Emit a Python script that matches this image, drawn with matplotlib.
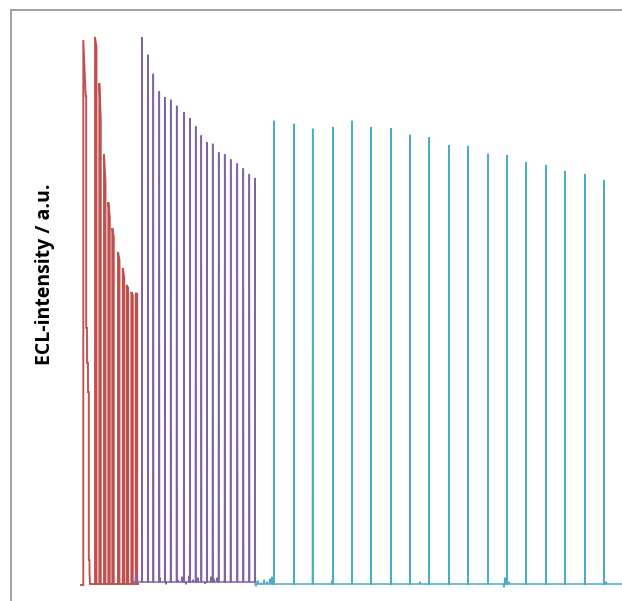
import numpy as np
import matplotlib
matplotlib.use("Agg")
import matplotlib.pyplot as plt
from matplotlib.lines import Line2D

# ---------------- data (time in s, ECL intensity in a.u.) ----------------
# red series: each cycle = a narrow double-topped pulse (first top, second top)
red_t = [6.6, 30, 38.6, 48, 56.6, 64.6, 76, 85.4, 93.4, 102.6, 111.4]
red_top1 = [1090, 1096, 1004, 862, 766, 714, 666, 634, 600, 586, 584]
red_top2 = [978, 1076, 932, 806, 736, 696, 650, 616, 594, 580, 582]
red_base = 2
# extra shoulders of the first cycle (time, value)
red_shoulder_t = [12.4, 14.0, 16.0, 17.6, 19.0]
red_shoulder_v = [514, 444, 386, 50, 26]

# purple series
purple_t = [124, 136, 146.6, 158.6, 170, 181.4, 193.4, 208, 220, 231.4,
            242.6, 254, 265.4, 277.4, 289.4, 301.4, 314.6, 326.6, 338.6, 350]
purple_peak = [1095, 1060, 1022, 987, 975, 970, 958, 945, 933, 917,
               899, 885, 882, 865, 861, 851, 843, 833, 821, 813]
purple_base = 6
purple_noise_t = [112, 114, 160, 172, 182, 196, 204, 212, 218, 226, 236, 250, 262, 268, 274, 290]
purple_noise_v = [18, 8, 8, -4, 8, 3, 10, -4, 12, 4, 8, -3, 10, 5, 8, 4]

# cyan series
cyan_t = [388, 428, 465.4, 506, 544, 582, 622, 660, 698, 738,
          776, 816, 854, 892, 932, 970, 1010, 1048]
cyan_peak = [928, 922, 912, 915, 928, 915, 913, 900, 895, 879,
             877, 862, 859, 845, 839, 827, 821, 809]
cyan_base = 2
cyan_noise_t = [352, 356, 362, 368, 374, 380, 384, 504, 680, 848, 850, 858, 1052]
cyan_noise_v = [-4, 6, 2, 8, 4, 10, 14, 6, 4, -6, 12, 4, 4]
cyan_end = 1090

t_min, t_max = 0, 1084
i_min, i_max = -20, 1100

RED = "#C0504D"
PURPLE = "#8064A2"
CYAN = "#4BACC6"


def spike_trace(times, peaks, base, t_start, t_end, width=0.8,
                noise_t=(), noise_v=()):
    pts = [(t_start, base)]
    for t, p in zip(times, peaks):
        pts += [(t - width / 2, base), (t, p), (t + width / 2, base)]
    for t, v in zip(noise_t, noise_v):
        pts += [(t - 1.0, base), (t, base + v), (t + 1.0, base)]
    pts.append((t_end, base))
    pts.sort(key=lambda q: q[0])
    return np.array(pts).T


# ---------------- figure ----------------
W, H = 622, 601
fig = plt.figure(figsize=(W / 100, H / 100), dpi=100)

# outer frame (left and top edges visible)
fig.add_artist(Line2D([11 / W, 11 / W], [0, 1 - 10 / H], transform=fig.transFigure,
                      color="#A0A0A0", lw=1.4))
fig.add_artist(Line2D([11 / W, 1], [1 - 10 / H, 1 - 10 / H], transform=fig.transFigure,
                      color="#A0A0A0", lw=1.4))

ax = fig.add_axes([80 / W, (H - 595) / H, (622 - 80) / W, 560 / H])
ax.set_xlim(t_min, t_max)
ax.set_ylim(i_min, i_max)
ax.axis("off")

# red trace
rx = [0, 6.0]
ry = [0, 0]
for k, (t, a, b) in enumerate(zip(red_t, red_top1, red_top2)):
    if k == 0:
        rx += [t, t, t + 4.8, t + 4.8]
        ry += [0, a, b, b]
        for st, sv in zip(red_shoulder_t, red_shoulder_v):
            rx += [st, st]
            ry += [ry[-1], sv]
        rx += [20, 22]
        ry += [red_base, red_base]
    else:
        rx += [t, t, t + 3.0, t + 3.0, t + 6.0]
        ry += [red_base, a, b, red_base, red_base]
rx += [113, 114]
ry += [red_base, red_base]
ax.plot(rx, ry, color=RED, lw=1.35, solid_joinstyle="miter")

# purple trace
px, py = spike_trace(purple_t, purple_peak, purple_base, 108, 352, width=1.2,
                     noise_t=purple_noise_t, noise_v=purple_noise_v)
ax.plot(px, py, color=PURPLE, lw=1.1)

# cyan trace
cx, cy = spike_trace(cyan_t, cyan_peak, cyan_base, 350, cyan_end, width=1.0,
                     noise_t=cyan_noise_t, noise_v=cyan_noise_v)
ax.plot(cx, cy, color=CYAN, lw=1.1)

fig.text(45 / W, 1 - 274 / H, "ECL-intensity / a.u.", rotation=90,
         ha="center", va="center", fontsize=14, fontweight="bold",
         family=["Open Sans", "DejaVu Sans"], color="black")

fig.savefig("out.png", dpi=100)
